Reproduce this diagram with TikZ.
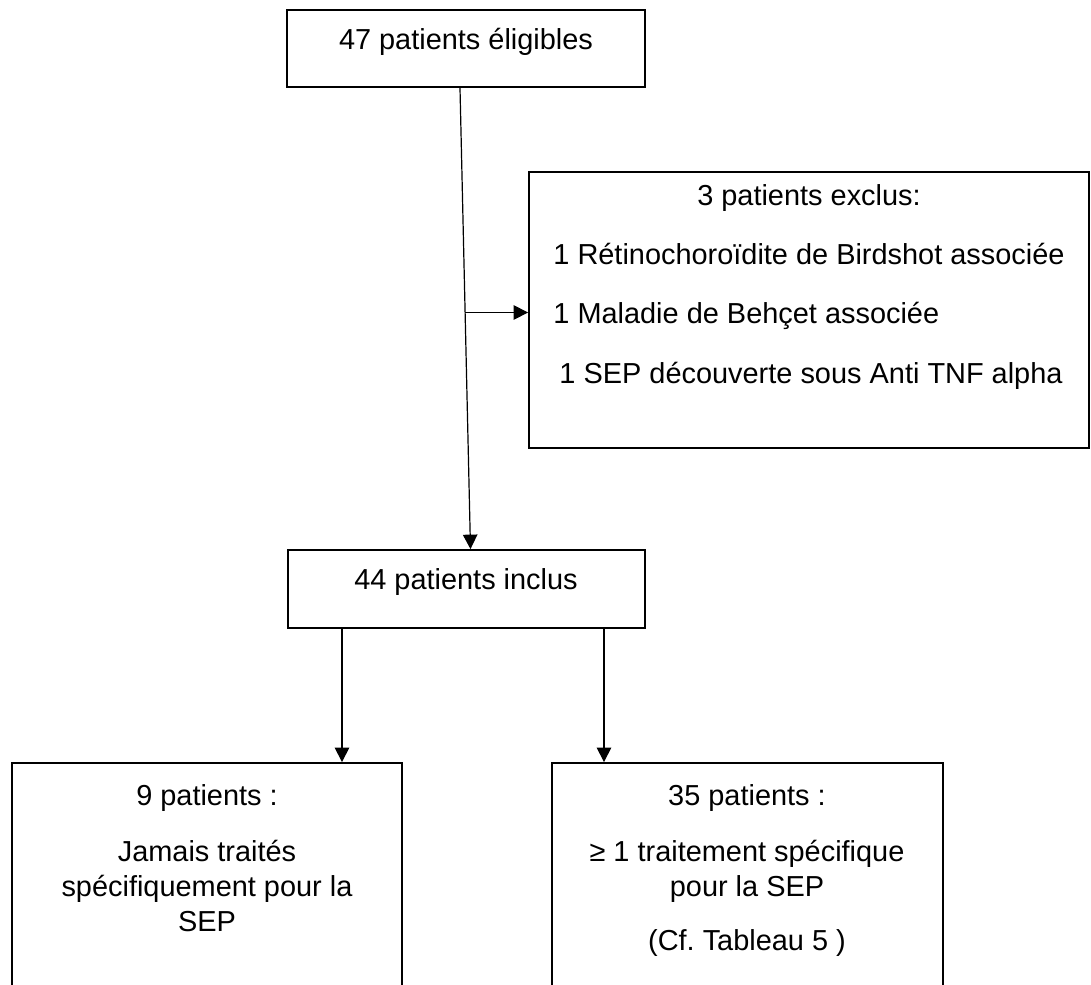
\documentclass[tikz,border=0pt]{standalone}
\usepackage{fontspec}
\setmainfont{Liberation Sans}
\usetikzlibrary{arrows.meta,positioning,fit,calc}

\begin{document}
\begin{tikzpicture}[
  x=0.415pt, y=-0.415pt,
  font=\fontsize{12}{14}\selectfont,
  b/.style={draw,line width=0.75pt,inner sep=0pt},
  lb/.style={inner sep=0pt,anchor=base},
  a/.style={line width=0.5pt,-{Triangle[length=6pt,width=6pt]}}]
\clip (0,0) rectangle (1091,985);
% boxes
\node[b,fit={(287,10) (645,87)}] (elig) {};
\node[b,fit={(529,172) (1089,448)}] (excl) {};
\node[b,fit={(288,550) (645,628)}] (incl) {};
\node[b,fit={(12,763) (402,1000)}] (never) {};
\node[b,fit={(552,763) (943,1000)}] (treated) {};
% texts
\node[lb] (tElig) at (466,50) {47 patients éligibles};
\node[lb] (tExcl) at (809,206) {3 patients exclus:};
\node[lb] (tBird) at (809,265) {1 Rétinochoroïdite de Birdshot associée};
\node[lb,anchor=base west] (tBehc) at ($(tBird.base west)+(0,59)$) {1 Maladie de Behçet associée};
\node[lb] (tTnf) at (811,383) {1 SEP découverte sous Anti TNF alpha};
\node[lb] (tIncl) at (466,590) {44 patients inclus};
\node[lb] (tNine) at (207,805) {9 patients :};
\node[lb] (tNever1) at (207,861) {Jamais traités};
\node[lb] (tNever2) at (207,896) {spécifiquement pour la};
\node[lb] (tNever3) at (207,931) {SEP};
\node[lb] (tFive) at (747,805) {35 patients :};
\node[lb] (tTrt1) at (747,861) {≥ 1 traitement spécifique};
\node[lb] (tTrt2) at (747,896) {pour la SEP};
\node[lb] (tTab) at (747,950) {(Cf.\ Tableau 5 )};
% arrows
\coordinate (top) at ($(elig.south)+(-6,0)$);
\coordinate (bot) at ($(incl.north)+(4,0)$);
\coordinate (brk) at ($(top)!0.487!(bot)$);
\draw[a] (top) -- (bot);
\draw[a] (brk) -- (brk -| excl.west);
\draw[a] (incl.south -| 342,0) -- (never.north -| 342,0);
\draw[a] (incl.south -| 604,0) -- (treated.north -| 604,0);
\end{tikzpicture}
\end{document}
